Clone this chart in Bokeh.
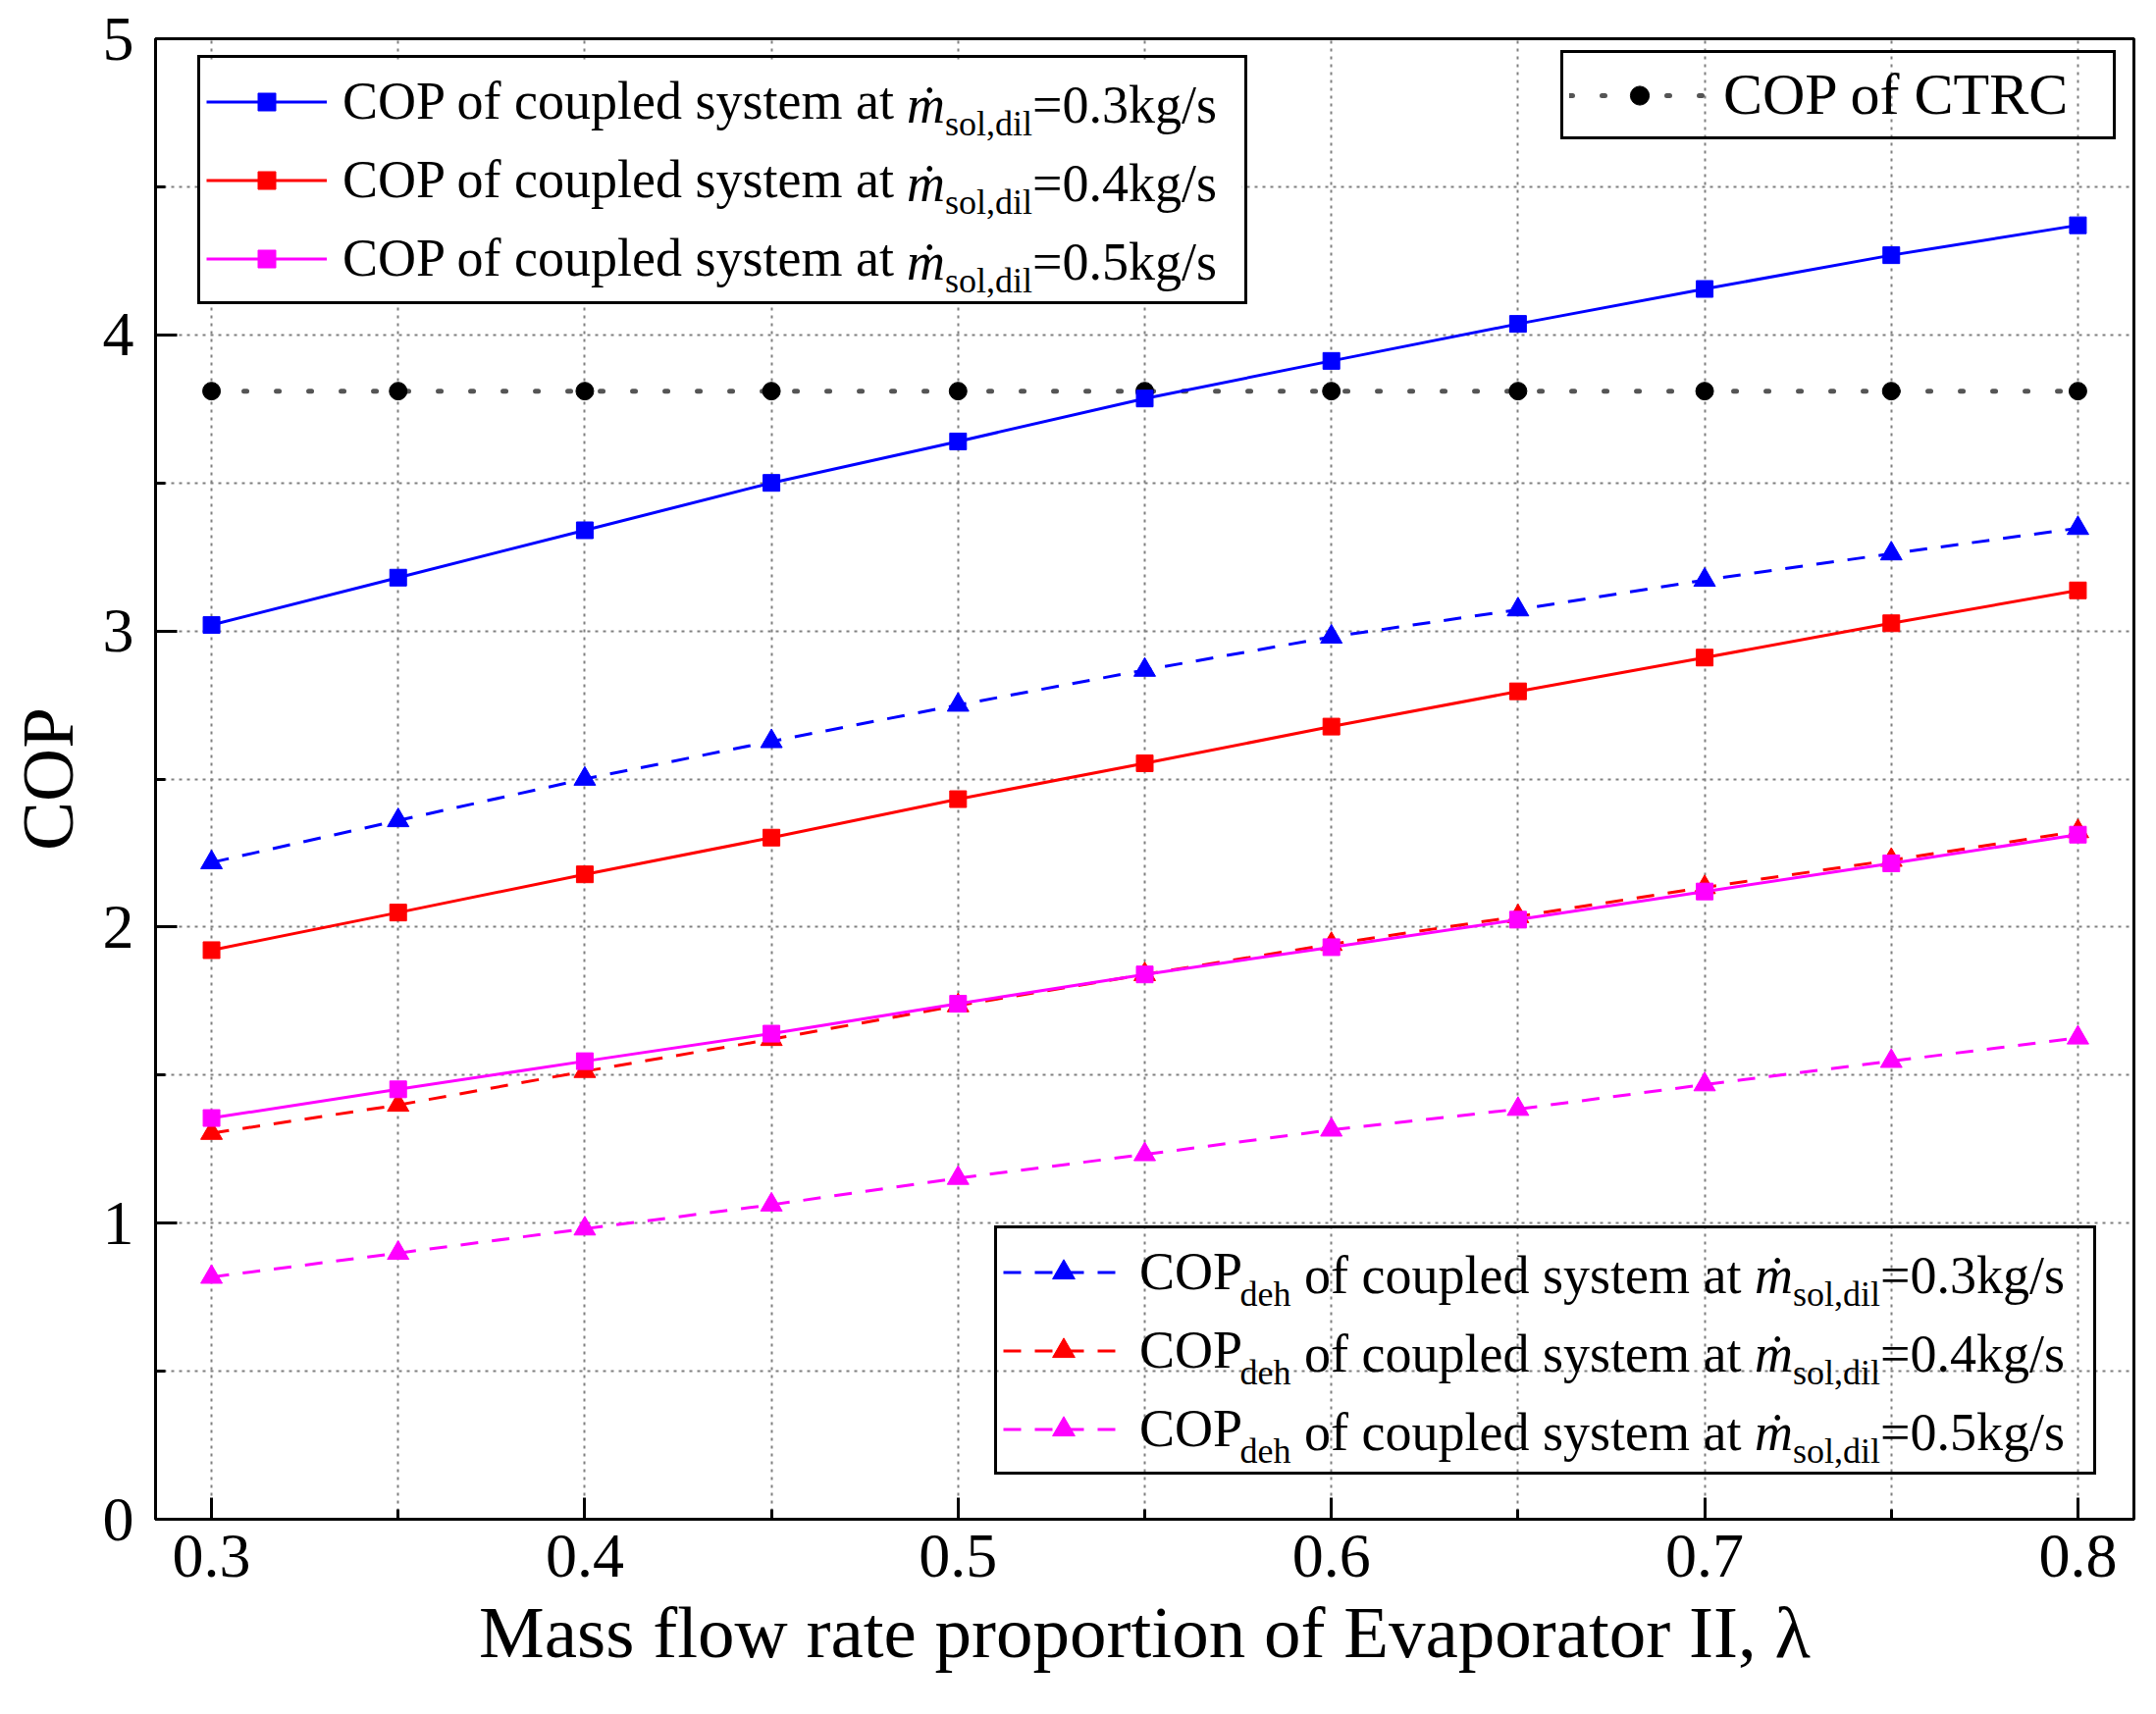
from bokeh.plotting import figure
from bokeh.models import (Legend, LegendItem, FixedTicker, Label, ColumnDataSource, Range1d,
                          BoxAnnotation)
from bokeh.embed import file_html
from bokeh.resources import INLINE

# ---------------- data ----------------
lam = [0.30, 0.35, 0.40, 0.45, 0.50, 0.55, 0.60, 0.65, 0.70, 0.75, 0.80]
cop_03 = [3.02, 3.18, 3.34, 3.50, 3.64, 3.785, 3.912, 4.037, 4.155, 4.269, 4.370]
cop_04 = [1.922, 2.049, 2.178, 2.302, 2.432, 2.553, 2.677, 2.796, 2.910, 3.026, 3.137]
cop_05 = [1.355, 1.452, 1.547, 1.640, 1.741, 1.840, 1.932, 2.025, 2.120, 2.215, 2.312]
copdeh_03 = [2.218, 2.360, 2.500, 2.627, 2.750, 2.868, 2.980, 3.072, 3.172, 3.261, 3.347]
copdeh_04 = [1.304, 1.399, 1.513, 1.621, 1.735, 1.840, 1.942, 2.036, 2.134, 2.226, 2.323]
copdeh_05 = [0.818, 0.899, 0.981, 1.062, 1.152, 1.232, 1.315, 1.385, 1.468, 1.547, 1.626]
cop_ctrc = [3.81, 3.81, 3.81, 3.81, 3.81, 3.81, 3.81, 3.81, 3.81, 3.81, 3.81]

x_ticks = [0.3, 0.4, 0.5, 0.6, 0.7, 0.8]
x_minor = [0.35, 0.45, 0.55, 0.65, 0.75]
y_ticks = [0, 1, 2, 3, 4, 5]
y_minor = [0.5, 1.5, 2.5, 3.5, 4.5]
flows = ["0.3", "0.4", "0.5"]

FONT = "Liberation Serif"

# ---------------- layout constants ----------------
X0, X1 = 0.285, 0.815
Y0, Y1 = 0.0, 5.0
FL, FT = 158, 39          # frame left/top on page
FW, FH = 2016, 1509
FB = FT + FH


def X(px):
    return X0 + (px - FL) * (X1 - X0) / FW


def Y(py):
    return Y0 + (FB - py) * (Y1 - Y0) / FH


# Times / Liberation Serif advance widths (per 1000 em)
W = {' ': 250, 'C': 667, 'O': 722, 'P': 556, 'o': 500, 'f': 333, 'c': 444, 'u': 500,
     'p': 500, 'l': 278, 'e': 444, 'd': 500, 's': 389, 'y': 500, 't': 278, 'm': 778,
     'a': 444, '=': 564, '.': 250, 'k': 500, 'g': 500, '/': 278, ',': 250, 'i': 278,
     'h': 500, 'T': 611, 'R': 667}
for ch in "0123456789":
    W[ch] = 500


def tw(s, size):
    return sum(W.get(c, 500) for c in s) * size / 1000.0


p = figure(x_range=Range1d(X0, X1), y_range=Range1d(Y0, Y1),
           frame_width=FW, frame_height=FH,
           min_border_left=FL, min_border_top=FT, min_border_right=15, min_border_bottom=185,
           output_backend="svg", toolbar_location=None)
p.background_fill_color = "white"
p.border_fill_color = "white"
p.outline_line_color = "black"
p.outline_line_width = 3
p.outline_line_alpha = 1.0

xt = FixedTicker(ticks=x_ticks, minor_ticks=x_minor)
yt = FixedTicker(ticks=y_ticks, minor_ticks=y_minor)
p.xaxis.ticker = xt
p.yaxis.ticker = yt
p.xgrid.ticker = xt
p.ygrid.ticker = yt

for g in (p.xgrid[0], p.ygrid[0]):
    g.grid_line_color = "#808080"
    g.grid_line_width = 2
    g.grid_line_dash = "3 5"
    g.minor_grid_line_color = "#808080"
    g.minor_grid_line_width = 2
    g.minor_grid_line_dash = "3 5"

for ax in (p.xaxis[0], p.yaxis[0]):
    ax.axis_line_width = 3
    ax.axis_line_color = "black"
    ax.major_tick_line_width = 3
    ax.minor_tick_line_width = 3
    ax.major_tick_line_color = "black"
    ax.minor_tick_line_color = "black"
    ax.major_tick_in = 22
    ax.major_tick_out = 0
    ax.minor_tick_in = 10
    ax.minor_tick_out = 0
    ax.major_label_text_font = FONT
    ax.major_label_text_font_size = "64px"
    ax.major_label_text_color = "black"
    ax.axis_label_text_font = FONT
    ax.axis_label_text_font_size = "75px"
    ax.axis_label_text_font_style = "normal"
    ax.axis_label_text_color = "black"

p.xaxis.major_label_standoff = 16
p.yaxis.major_label_standoff = 22
p.xaxis.axis_label_standoff = 12
p.yaxis.axis_label_standoff = 12
p.xaxis.axis_label = "Mass flow rate proportion of Evaporator II, \u03bb"
p.yaxis.axis_label = "COP"

# white panel behind the upper-left legend (hides the grid there)
L1_LEFT, L1_TOP, L1_RIGHT = 201, 62, 1265
L1_BOTTOM = L1_TOP + 248
p.add_layout(BoxAnnotation(left=X(L1_LEFT), right=X(L1_RIGHT), top=Y(L1_TOP), bottom=Y(L1_BOTTOM),
                           fill_color="white", fill_alpha=1.0, line_alpha=0.0, level="underlay"))


def series(yvals, color, dash, marker, size, lw=3):
    src = ColumnDataSource(dict(x=lam, y=yvals))
    ln = p.line('x', 'y', source=src, line_color=color, line_width=lw, line_dash=dash)
    sc = p.scatter('x', 'y', source=src, marker=marker, size=size,
                   fill_color=color, line_color=color, line_width=1)
    return [ln, sc]


# CTRC reference
src_c = ColumnDataSource(dict(x=lam, y=cop_ctrc))
r_c_line = p.line('x', 'y', source=src_c, line_color="#555555", line_width=5,
                  line_dash="3 30", line_cap="round")
r_c_pts = p.scatter('x', 'y', source=src_c, marker="circle", size=18,
                    fill_color="black", line_color="black")
r_ctrc = [r_c_line, r_c_pts]

r_d3 = series(copdeh_03, "#0000ff", "18 14", "triangle", 22)
r_d4 = series(copdeh_04, "#ff0000", "18 14", "triangle", 22)
r_d5 = series(copdeh_05, "#ff00ff", "18 14", "triangle", 22)
r_s3 = series(cop_03, "#0000ff", "solid", "square", 17)
r_s4 = series(cop_04, "#ff0000", "solid", "square", 17)
r_s5 = series(cop_05, "#ff00ff", "solid", "square", 17)

PAD, SPACING = 6, 4


def make_legend(items, left, top, glyph_w, glyph_h, row_h, lab_w, standoff, font_px):
    n = len(items)
    height = 2 * PAD + n * row_h + (n - 1) * SPACING
    leg = Legend(items=items, location=(left - FL, FB - (top + height)),
                 glyph_width=glyph_w, glyph_height=glyph_h, label_height=row_h,
                 label_width=lab_w, label_standoff=standoff, spacing=SPACING, padding=PAD,
                 margin=0, border_line_color="black", border_line_width=3,
                 border_line_alpha=1.0, background_fill_alpha=0.0,
                 label_text_font=FONT, label_text_font_size=f"{font_px}px",
                 label_text_color="black")
    p.add_layout(leg, "center")
    text_x = left + PAD + glyph_w + standoff
    centers = [top + PAD + i * (row_h + SPACING) + row_h / 2 for i in range(n)]
    return text_x, centers


def lab(text, px, py, size, style="normal"):
    p.add_layout(Label(x=X(px), y=Y(py), x_units="data", y_units="data", text=text,
                       text_font=FONT, text_font_size=f"{size}px", text_font_style=style,
                       text_baseline="middle", text_align="left", text_color="black",
                       level="overlay"))


MAIN, SUB = 54, 36
SUB_OFF = 19
MDOT_W = 0.722 * MAIN

# Legend 1: coupled system COP
prefix1 = "COP of coupled system at"
tx1, cy1 = make_legend(
    [LegendItem(label=prefix1, renderers=r) for r in (r_s3, r_s4, r_s5)],
    left=L1_LEFT, top=L1_TOP, glyph_w=123, glyph_h=45, row_h=76, lab_w=913, standoff=16,
    font_px=MAIN)

# Legend 2: CTRC
make_legend([LegendItem(label="COP of CTRC", renderers=r_ctrc)],
            left=1590, top=57, glyph_w=143, glyph_h=48, row_h=73, lab_w=391, standoff=14,
            font_px=60)

# Legend 3: dehumidification COP
tx3, cy3 = make_legend(
    [LegendItem(label="COP", renderers=r) for r in (r_d3, r_d4, r_d5)],
    left=1013, top=1255, glyph_w=123, glyph_h=57, row_h=76, lab_w=966, standoff=16,
    font_px=MAIN)

for fl, c in zip(flows, cy1):
    xm = tx1 + tw(prefix1, MAIN) + tw(" ", MAIN)
    lab("\u1e41", xm, c, MAIN, "italic")
    xs = xm + MDOT_W
    lab("sol,dil", xs, c + SUB_OFF, SUB)
    lab("=" + fl + "kg/s", xs + tw("sol,dil", SUB), c, MAIN)

for fl, c in zip(flows, cy3):
    xd = tx3 + tw("COP", MAIN)
    lab("deh", xd, c + SUB_OFF, SUB)
    xo = xd + tw("deh", SUB) + tw(" ", MAIN)
    mid = "of coupled system at"
    lab(mid, xo, c, MAIN)
    xm = xo + tw(mid, MAIN) + tw(" ", MAIN)
    lab("\u1e41", xm, c, MAIN, "italic")
    xs = xm + MDOT_W
    lab("sol,dil", xs, c + SUB_OFF, SUB)
    lab("=" + fl + "kg/s", xs + tw("sol,dil", SUB), c, MAIN)

open("out.html", "w").write(file_html(p, INLINE))
